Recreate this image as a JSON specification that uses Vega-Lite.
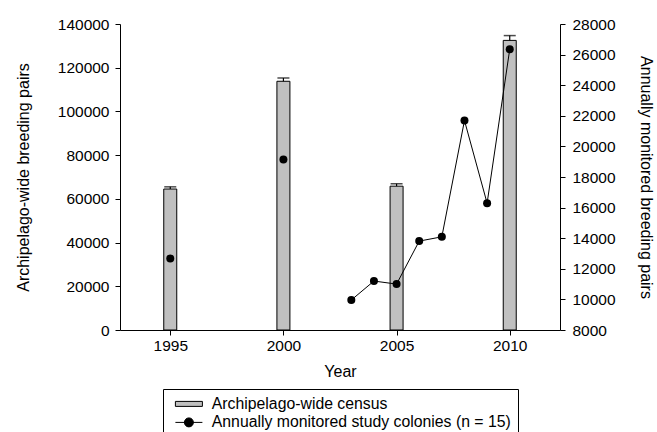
{
  "$schema": "https://vega.github.io/schema/vega-lite/v6.json",
  "width": 440,
  "height": 306,
  "autosize": {"type": "none"},
  "padding": {"left": 120, "top": 24, "right": 97, "bottom": 102},
  "background": "white",
  "config": {
    "font": "Liberation Sans",
    "view": {"stroke": null},
    "axis": {
      "domainColor": "black", "tickColor": "black", "labelColor": "black", "titleColor": "black",
      "labelFontSize": 15.5, "titleFontSize": 16, "titleFontWeight": "normal", "grid": false,
      "tickSize": 5, "domainWidth": 1, "tickWidth": 1,
      "labelFont": "Liberation Sans", "titleFont": "Liberation Sans"
    }
  },
  "datasets": {
    "census": [
      {"year": 1995, "pairs": 64500, "upper": 65500, "series": "Archipelago-wide census"},
      {"year": 2000, "pairs": 113800, "upper": 115300, "series": "Archipelago-wide census"},
      {"year": 2005, "pairs": 65800, "upper": 66900, "series": "Archipelago-wide census"},
      {"year": 2010, "pairs": 132500, "upper": 134700, "series": "Archipelago-wide census"}
    ],
    "monitored": [
      {"year": 1995, "pairs": 12680, "connected": false},
      {"year": 2000, "pairs": 19150, "connected": false},
      {"year": 2003, "pairs": 9960, "connected": true},
      {"year": 2004, "pairs": 11200, "connected": true},
      {"year": 2005, "pairs": 11000, "connected": true},
      {"year": 2006, "pairs": 13810, "connected": true},
      {"year": 2007, "pairs": 14090, "connected": true},
      {"year": 2008, "pairs": 21690, "connected": true},
      {"year": 2009, "pairs": 16290, "connected": true},
      {"year": 2010, "pairs": 26350, "connected": true}
    ]
  },
  "layer": [
    {
      "data": {"name": "census"},
      "layer": [
        {
          "mark": {"type": "bar", "size": 13, "stroke": "black", "strokeWidth": 1},
          "encoding": {
            "x": {
              "field": "year", "type": "quantitative",
              "scale": {"domain": [1993, 2012], "nice": false, "zero": false},
              "axis": {"values": [1995, 2000, 2005, 2010], "format": "d", "title": "Year", "labelPadding": 3, "titlePadding": 10}
            },
            "y": {
              "field": "pairs", "type": "quantitative",
              "scale": {"domain": [0, 140000], "nice": false},
              "axis": {"values": [0, 20000, 40000, 60000, 80000, 100000, 120000, 140000], "format": "d", "title": "Archipelago-wide breeding pairs", "labelPadding": 6, "titlePadding": 26}
            },
            "color": {
              "field": "series", "type": "nominal",
              "scale": {"domain": ["Archipelago-wide census", "Annually monitored study colonies (n = 15)"], "range": ["#c0c0c0", "black"]},
              "legend": {
                "orient": "none", "legendX": 43, "legendY": 365,
                "title": null, "strokeColor": "black", "padding": 7,
                "labelFontSize": 15.8, "labelColor": "black", "labelFont": "Liberation Sans", "labelLimit": 0,
                "symbolSize": 100, "labelOffset": 26, "rowPadding": 1.5,
                "symbolStrokeColor": "black", "symbolStrokeWidth": 1,
                "encode": {
                  "symbols": {
                    "update": {
                      "shape": [
                        {"test": "datum.value === 'Archipelago-wide census'", "value": "M-0.5,-0.5H4.9V0.5H-0.5Z"},
                        {"value": "M-0.5,0H4.9M3.1,0A0.9,0.9,0,1,1,1.3,0A0.9,0.9,0,1,1,3.1,0Z"}
                      ],
                      "stroke": {"value": "black"},
                      "strokeWidth": {"value": 1},
                      "strokeOpacity": {"value": 1}
                    }
                  }
                }
              }
            }
          }
        },
        {
          "mark": {"type": "rule", "color": "black", "strokeWidth": 1.2},
          "encoding": {
            "x": {"field": "year", "type": "quantitative"},
            "y": {"field": "pairs", "type": "quantitative"},
            "y2": {"field": "upper"}
          }
        },
        {
          "mark": {"type": "tick", "orient": "horizontal", "size": 12, "thickness": 1.5, "color": "black"},
          "encoding": {
            "x": {"field": "year", "type": "quantitative"},
            "y": {"field": "upper", "type": "quantitative"}
          }
        }
      ]
    },
    {
      "data": {"name": "monitored"},
      "encoding": {
        "x": {"field": "year", "type": "quantitative"},
        "y": {
          "field": "pairs", "type": "quantitative",
          "scale": {"domain": [8000, 28000], "nice": false, "zero": false},
          "axis": {"orient": "right", "values": [8000, 10000, 12000, 14000, 16000, 18000, 20000, 22000, 24000, 26000, 28000], "format": "d", "title": "Annually monitored breeding pairs", "labelPadding": 7, "titlePadding": 22}
        }
      },
      "layer": [
        {
          "transform": [{"filter": "datum.connected"}],
          "mark": {"type": "line", "strokeWidth": 1, "color": "black"}
        },
        {
          "mark": {"type": "point", "filled": true, "size": 64, "opacity": 1, "color": "black"}
        }
      ]
    }
  ],
  "resolve": {"scale": {"y": "independent"}}
}
